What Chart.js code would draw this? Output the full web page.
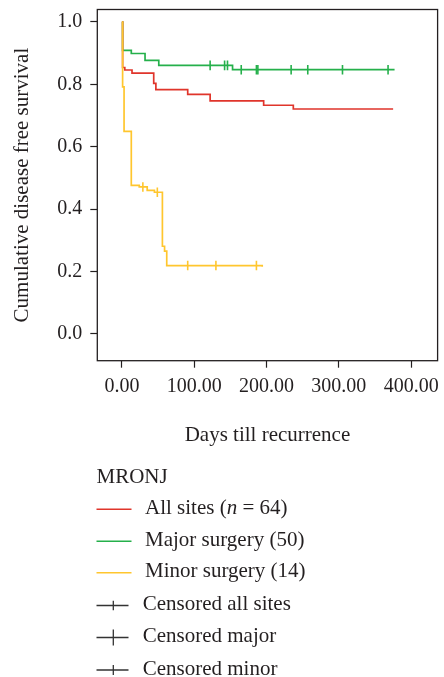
<!DOCTYPE html>
<html><head><meta charset="utf-8">
<script src="https://cdn.jsdelivr.net/npm/chart.js@4.4.1/dist/chart.umd.min.js"></script>
<style>html,body{margin:0;padding:0;background:#fff;}#wrap{width:444px;height:677px;position:relative;}</style>
</head><body><div id="wrap"><canvas id="c" width="444" height="677"></canvas></div>
<script>
// ---- data ----
const daysAll   = [0, 1, 4, 14, 44, 47, 91, 122, 196, 237, 375];
const survAll   = [1.0, 0.854, 0.846, 0.836, 0.803, 0.783, 0.768, 0.747, 0.733, 0.721, 0.721];
const daysMajor = [0, 1, 13, 32, 51, 153, 377];
const survMajor = [1.0, 0.909, 0.899, 0.877, 0.861, 0.847, 0.847];
const censorMajorDays = [122, 142, 146, 165, 186, 188, 234, 257, 305, 368];
const censorMajorSurv = [0.861, 0.861, 0.861, 0.847, 0.847, 0.847, 0.847, 0.847, 0.847, 0.847];
const daysMinor = [0, 1, 3, 13, 24, 35, 45, 56, 59, 62, 194];
const survMinor = [1.0, 0.792, 0.649, 0.476, 0.471, 0.460, 0.454, 0.281, 0.265, 0.219, 0.215];
const censorMinorDays = [29, 49, 91, 130, 186];
const censorMinorSurv = [0.471, 0.454, 0.219, 0.219, 0.219];
const xTickValues = [0, 100, 200, 300, 400];
const yTickValues = [0, 0.2, 0.4, 0.6, 0.8, 1.0];
const legendTitle = 'MRONJ';
const seriesNames = ['All sites (', 'Major surgery (50)', 'Minor surgery (14)'];
const censorNames = ['Censored all sites', 'Censored major', 'Censored minor'];

const RED = '#e0352b', GREEN = '#25b04b', YELLOW = '#ffc62e', INK = '#231f20';
const FAM = '"Liberation Serif", "Times New Roman", serif';

const pts = (xs, ys) => xs.map((x, i) => ({x: x, y: ys[i]}));

function curve(label, xs, ys, color, order) {
  return {label, data: pts(xs, ys), borderColor: color, backgroundColor: color,
    stepped: true, borderWidth: 1.7, pointRadius: 0, fill: false, order};
}
function censor(label, xs, ys, color, order) {
  return {label, data: pts(xs, ys), borderColor: color, backgroundColor: color,
    showLine: false, pointStyle: 'line', pointRotation: 90, pointRadius: 4.8,
    pointBorderWidth: 1.6, order};
}

const boxPlugin = {
  id: 'box',
  beforeDatasetsDraw(chart) {
    const {ctx, chartArea: a} = chart;
    ctx.save();
    ctx.strokeStyle = INK; ctx.lineWidth = 1.3;
    ctx.strokeRect(a.left, a.top, a.right - a.left, a.bottom - a.top);
    ctx.restore();
  }
};

const legendPlugin = {
  id: 'customLegend',
  afterDraw(chart) {
    const ctx = chart.ctx;
    ctx.save();
    ctx.fillStyle = INK;
    ctx.textBaseline = 'middle';
    ctx.textAlign = 'left';
    ctx.font = '21px ' + FAM;
    ctx.fillText(legendTitle, 96.5, 477);
    const rows = [509.3, 541.2, 572.7, 605.5, 637.5, 670];
    const cols = [RED, GREEN, YELLOW];
    for (let i = 0; i < 3; i++) {
      ctx.strokeStyle = cols[i]; ctx.lineWidth = 1.6;
      ctx.beginPath(); ctx.moveTo(96.5, rows[i]); ctx.lineTo(131.5, rows[i]); ctx.stroke();
    }
    let x = 145;
    ctx.fillStyle = INK;
    ctx.font = '21px ' + FAM;
    ctx.fillText(seriesNames[0], x, rows[0] - 1);
    x += ctx.measureText(seriesNames[0]).width;
    ctx.font = 'italic 21px ' + FAM;
    ctx.fillText('n', x, rows[0] - 1);
    x += ctx.measureText('n').width;
    ctx.font = '21px ' + FAM;
    ctx.fillText(' = 64)', x, rows[0] - 1);
    ctx.fillText(seriesNames[1], 145, rows[1] - 1);
    ctx.fillText(seriesNames[2], 145, rows[2] - 1);
    const half = [4.7, 8, 5];
    for (let i = 0; i < 3; i++) {
      const y = rows[3 + i];
      ctx.strokeStyle = '#333'; ctx.lineWidth = 1.3;
      ctx.beginPath(); ctx.moveTo(96.5, y); ctx.lineTo(128.5, y);
      ctx.moveTo(113.3, y - half[i]); ctx.lineTo(113.3, y + half[i]); ctx.stroke();
      ctx.fillText(censorNames[i], 142.7, y - 1);
    }
    ctx.restore();
  }
};

new Chart(document.getElementById('c'), {
  type: 'line',
  data: {
    datasets: [
      curve('All sites', daysAll, survAll, RED, 2),
      curve('Major surgery', daysMajor, survMajor, GREEN, 3),
      curve('Minor surgery', daysMinor, survMinor, YELLOW, 1),
      censor('Censored major', censorMajorDays, censorMajorSurv, GREEN, 3),
      censor('Censored minor', censorMinorDays, censorMinorSurv, YELLOW, 1)
    ]
  },
  options: {
    responsive: false,
    animation: false,
    devicePixelRatio: 1,
    layout: {padding: {left: 9.5, top: 9.5, right: 1.3, bottom: 229.3}},
    plugins: {legend: {display: false}, tooltip: {enabled: false}},
    scales: {
      x: {
        type: 'linear', min: -34, max: 436.5,
        afterBuildTicks: s => { s.ticks = xTickValues.map(v => ({value: v})); },
        afterFit: s => { s.height = 87; s.paddingLeft = 0; s.paddingRight = 0; },
        ticks: {callback: v => Number(v).toFixed(2), autoSkip: false, maxRotation: 0,
          color: INK, padding: 7, font: {family: FAM, size: 20}},
        grid: {drawOnChartArea: false, drawTicks: true, tickLength: 7, tickColor: INK, tickWidth: 1.2},
        border: {display: false},
        title: {display: true, text: 'Days till recurrence', color: INK, padding: 0,
          font: {family: FAM, size: 21}}
      },
      y: {
        type: 'linear', min: -0.086, max: 1.04,
        afterBuildTicks: s => { s.ticks = yTickValues.map(v => ({value: v})); },
        afterFit: s => { s.width = 97.3 - 9.5; s.paddingTop = 0; s.paddingBottom = 0; },
        ticks: {callback: v => Number(v).toFixed(1), color: INK, padding: 8,
          font: {family: FAM, size: 20}},
        grid: {drawOnChartArea: false, drawTicks: true, tickLength: 7, tickColor: INK, tickWidth: 1.2},
        border: {display: false},
        title: {display: true, text: 'Cumulative disease free survival', color: INK, padding: 0,
          font: {family: FAM, size: 21}}
      }
    }
  },
  plugins: [boxPlugin, legendPlugin]
});
</script></body></html>
